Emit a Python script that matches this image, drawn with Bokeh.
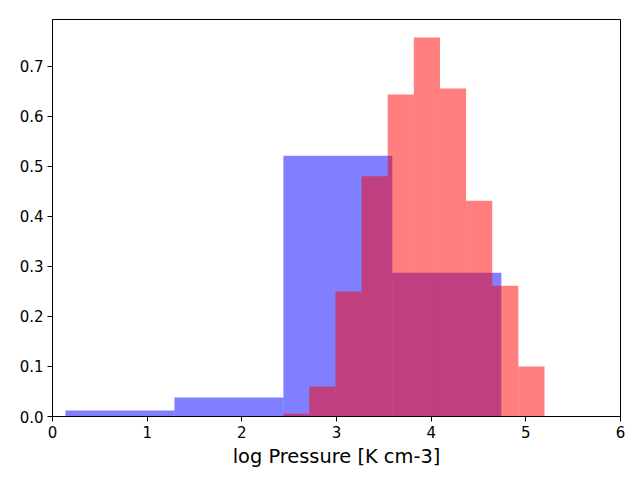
from bokeh.plotting import figure
from bokeh.models import Range1d, FixedTicker, PrintfTickFormatter
from bokeh.embed import file_html
from bokeh.resources import INLINE

# Histogram data (density normalised)
blue_edges = [0.137, 1.288, 2.439, 3.590, 4.741]
blue_density = [0.012, 0.038, 0.521, 0.287]

red_edges = [2.437, 2.713, 2.989, 3.265, 3.541, 3.817, 4.093, 4.369, 4.645, 4.921, 5.197]
red_density = [0.0054, 0.060, 0.2495, 0.480, 0.643, 0.757, 0.655, 0.431, 0.261, 0.0998]

x_ticks = [0, 1, 2, 3, 4, 5, 6]
y_ticks = [0.0, 0.1, 0.2, 0.3, 0.4, 0.5, 0.6, 0.7]
x_label = "log Pressure [K cm-3]"

p = figure(width=640, height=480, output_backend="svg", toolbar_location=None,
           x_range=Range1d(0, 6), y_range=Range1d(0, 0.793),
           min_border_left=52, min_border_right=20, min_border_top=19, min_border_bottom=64)

p.quad(left=blue_edges[:-1], right=blue_edges[1:], top=blue_density, bottom=0,
       fill_color="blue", fill_alpha=0.5, line_color=None)
p.quad(left=red_edges[:-1], right=red_edges[1:], top=red_density, bottom=0,
       fill_color="red", fill_alpha=0.5, line_color=None)

p.xgrid.visible = False
p.ygrid.visible = False
p.outline_line_color = "black"
p.outline_line_width = 1
p.outline_line_alpha = 1

for ax in (p.xaxis[0], p.yaxis[0]):
    ax.axis_line_color = "black"
    ax.major_tick_line_color = "black"
    ax.major_tick_out = 5
    ax.major_tick_in = 0
    ax.minor_tick_line_color = None
    ax.major_label_text_font = "DejaVu Sans"
    ax.major_label_text_font_size = "15px"
    ax.major_label_text_color = "black"
    ax.major_label_standoff = 4

p.xaxis[0].ticker = FixedTicker(ticks=x_ticks)
p.yaxis[0].ticker = FixedTicker(ticks=y_ticks)
p.yaxis[0].formatter = PrintfTickFormatter(format="%.1f")
p.xaxis[0].axis_label = x_label
p.xaxis[0].axis_label_text_font = "DejaVu Sans"
p.xaxis[0].axis_label_text_font_size = "19.4px"
p.xaxis[0].axis_label_text_font_style = "normal"
p.xaxis[0].axis_label_text_color = "black"
p.xaxis[0].axis_label_standoff = 4

open("out.html", "w").write(file_html(p, INLINE))
